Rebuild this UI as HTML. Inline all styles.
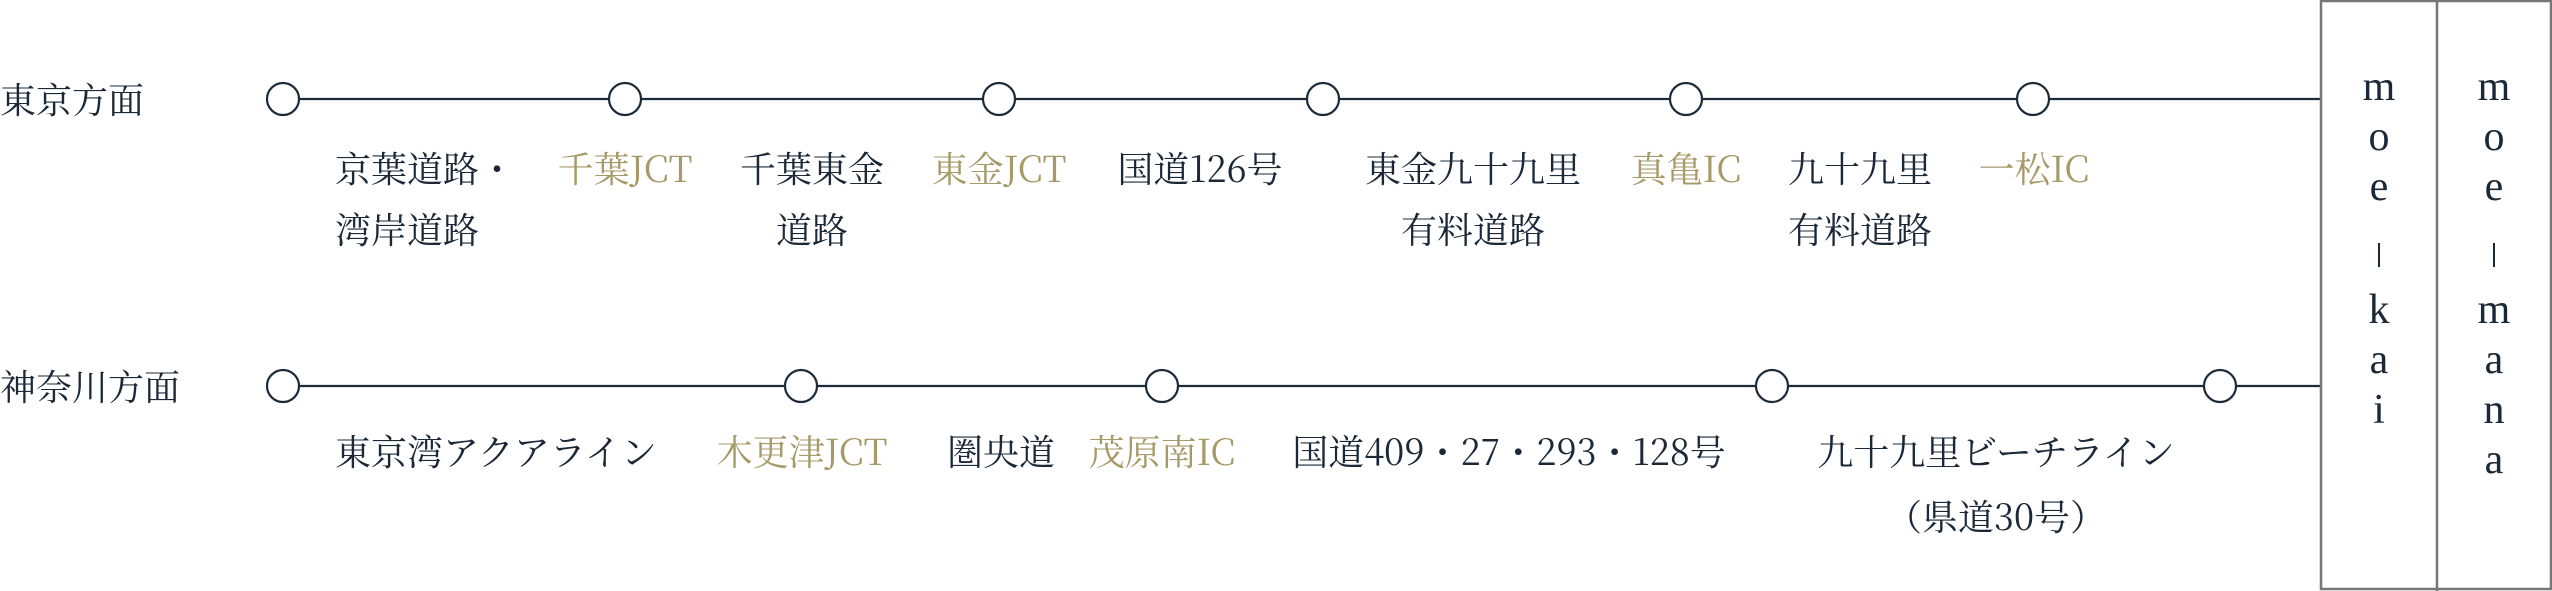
<!DOCTYPE html>
<html><head><meta charset="utf-8"><style>
html,body{margin:0;padding:0;background:#fff;}
body{width:2552px;height:591px;position:relative;overflow:hidden;font-family:"Noto Serif CJK SC","Liberation Serif",serif;color:#1a2838;}
.t{position:absolute;font-size:36px;white-space:nowrap;transform:translate(-50%,-50%);line-height:1;}
.l{position:absolute;font-size:36px;white-space:nowrap;transform:translateY(-50%);line-height:1;left:0;}
.g{color:#a69a68;}
.v{position:absolute;font-size:42px;transform:translate(-50%,-50%);line-height:1;font-family:"Liberation Serif",serif;}
.bar{position:absolute;width:2px;height:24px;background:#1a2838;transform:translate(-50%,-50%);}
svg{position:absolute;left:0;top:0;}
</style></head><body>
<svg width="2552" height="591">
<g stroke="#1c2b3a" stroke-width="2.2" fill="#fff">
<line x1="283" y1="99" x2="2321" y2="99"/>
<line x1="283" y1="386" x2="2321" y2="386"/>
<circle cx="283" cy="99" r="16"/><circle cx="625" cy="99" r="16"/><circle cx="999" cy="99" r="16"/><circle cx="1323" cy="99" r="16"/><circle cx="1686" cy="99" r="16"/><circle cx="2033" cy="99" r="16"/>
<circle cx="283" cy="386" r="16"/><circle cx="801" cy="386" r="16"/><circle cx="1162" cy="386" r="16"/><circle cx="1772" cy="386" r="16"/><circle cx="2220" cy="386" r="16"/>
</g>
<g stroke="#777" stroke-width="2.5" fill="none">
<rect x="2321" y="1" width="230" height="588"/>
<line x1="2437" y1="1" x2="2437" y2="591"/>
</g>
</svg>
<div class="l" style="top:99px">東京方面</div>
<div class="l" style="top:386px">神奈川方面</div>

<div class="t" style="left:335px;top:168px;transform:translateY(-50%)">京葉道路・</div>
<div class="t" style="left:335px;top:229px;transform:translateY(-50%)">湾岸道路</div>
<div class="t g" style="left:625px;top:168px">千葉JCT</div>
<div class="t" style="left:812px;top:168px">千葉東金</div>
<div class="t" style="left:812px;top:229px">道路</div>
<div class="t g" style="left:999px;top:168px">東金JCT</div>
<div class="t" style="left:1200px;top:168px">国道126号</div>
<div class="t" style="left:1473px;top:168px">東金九十九里</div>
<div class="t" style="left:1473px;top:229px">有料道路</div>
<div class="t g" style="left:1686px;top:168px">真亀IC</div>
<div class="t" style="left:1860px;top:168px">九十九里</div>
<div class="t" style="left:1860px;top:229px">有料道路</div>
<div class="t g" style="left:2034px;top:168px">一松IC</div>

<div class="t" style="left:335px;top:451px;transform:translateY(-50%)">東京湾アクアライン</div>
<div class="t g" style="left:802px;top:451px">木更津JCT</div>
<div class="t" style="left:1001px;top:451px">圏央道</div>
<div class="t g" style="left:1162px;top:451px">茂原南IC</div>
<div class="t" style="left:1509px;top:451px">国道409・27・293・128号</div>
<div class="t" style="left:1996px;top:451px">九十九里ビーチライン</div>
<div class="t" style="left:1996px;top:516px">（県道30号）</div>

<div class="v" style="left:2379px;top:87px">m</div>
<div class="v" style="left:2379px;top:137px">o</div>
<div class="v" style="left:2379px;top:187px">e</div>
<div class="bar" style="left:2379px;top:255px"></div>
<div class="v" style="left:2379px;top:310px">k</div>
<div class="v" style="left:2379px;top:360px">a</div>
<div class="v" style="left:2379px;top:410px">i</div>

<div class="v" style="left:2494px;top:87px">m</div>
<div class="v" style="left:2494px;top:137px">o</div>
<div class="v" style="left:2494px;top:187px">e</div>
<div class="bar" style="left:2494px;top:255px"></div>
<div class="v" style="left:2494px;top:310px">m</div>
<div class="v" style="left:2494px;top:360px">a</div>
<div class="v" style="left:2494px;top:410px">n</div>
<div class="v" style="left:2494px;top:460px">a</div>
</body></html>
